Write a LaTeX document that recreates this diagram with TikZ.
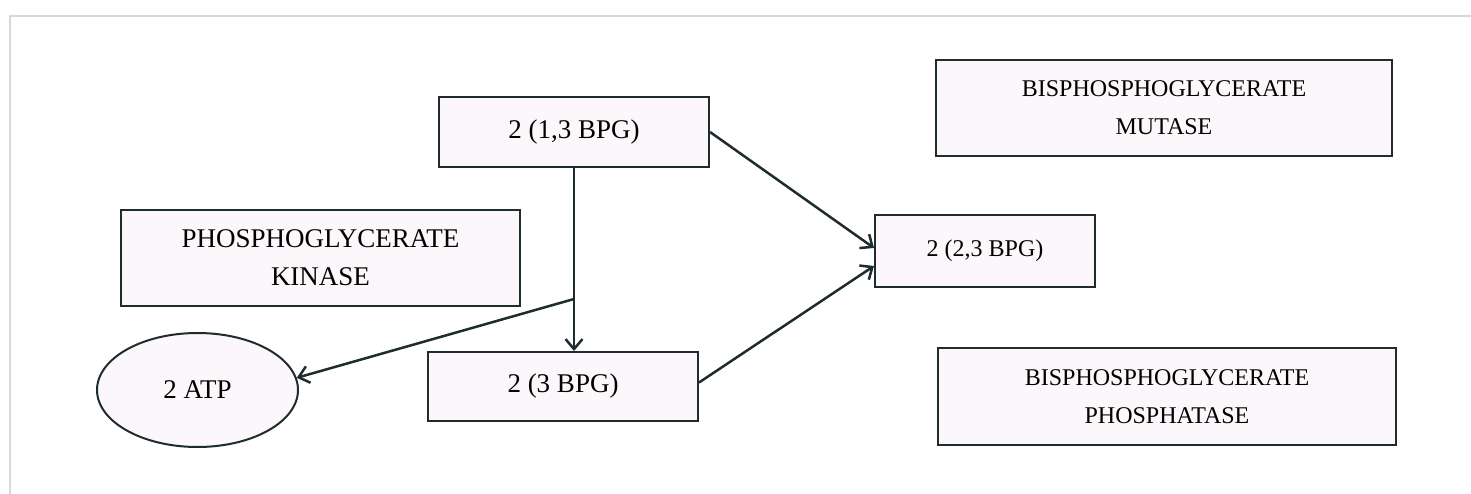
\documentclass[tikz,border=0pt]{standalone}
\usepackage{fontspec}
\setmainfont{Liberation Serif}
\usetikzlibrary{arrows.meta,shapes.geometric}
\definecolor{inkline}{HTML}{1F2C2E}
\definecolor{boxfill}{HTML}{FBF7FA}
\tikzset{
    stagebox/.style={draw=inkline, fill=boxfill, line width=2pt, align=center,
        inner sep=0pt, font=\fontsize{27}{38}\selectfont},
    narrowtext/.style={font=\fontsize{24}{38}\selectfont},
    flow/.style={draw=inkline, line width=2.5pt,
        -{Straight Barb[length=10pt,width=17pt]}},
}
\begin{document}
\begin{tikzpicture}[x=1pt,y=-1pt]
    \useasboundingbox (0,0) rectangle (1471,494);
    \draw[color=gray!30, line width=1.5pt] (10,494) -- (10,16) -- (1471,16);

    \node[stagebox, minimum width=270, minimum height=70] (bpg13) at (574,132) {2 (1,3 BPG)};
    \node[stagebox, minimum width=399, minimum height=96] (pgk) at (320.5,258) {PHOSPHOGLYCERATE\\KINASE};
    \node[stagebox, ellipse, minimum width=201, minimum height=114] (atp) at (197.5,390) {2 ATP};
    \node[stagebox, minimum width=270, minimum height=69] (bpg3) at (563,386.5) {2 (3 BPG)};
    \node[stagebox, narrowtext, minimum width=220, minimum height=72] (bpg23) at (985,251) {2 (2,3 BPG)};
    \node[stagebox, narrowtext, minimum width=456, minimum height=96] (mutase) at (1164,108) {BISPHOSPHOGLYCERATE\\MUTASE};
    \node[stagebox, narrowtext, minimum width=458, minimum height=97] (phosphatase) at (1167,396.5) {BISPHOSPHOGLYCERATE\\PHOSPHATASE};

    \path (bpg13.south) ++(0,131) coordinate (split);

    \draw[flow] (bpg13.south) -- (bpg13.south |- bpg3.north);
    \draw[flow] (split) -- (atp.7);
    \draw[flow] (bpg13.east) -- ([yshift=3pt]bpg23.west);
    \draw[flow] ([yshift=4pt]bpg3.east) -- ([yshift=-15pt]bpg23.west);
\end{tikzpicture}
\end{document}
